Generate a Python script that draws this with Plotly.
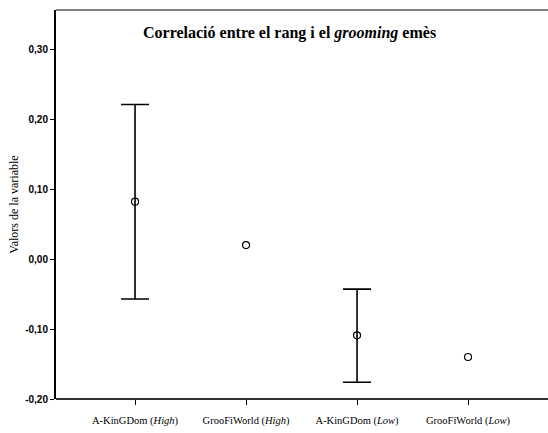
import plotly.graph_objects as go

categories = ["A-KinGDom (<i>High</i>)", "GrooFiWorld (<i>High</i>)",
              "A-KinGDom (<i>Low</i>)", "GrooFiWorld (<i>Low</i>)"]
means = [0.082, 0.020, -0.109, -0.140]
ci_high = [0.221, None, -0.043, None]
ci_low = [-0.057, None, -0.176, None]

y_tickvals = [-0.20, -0.10, 0.00, 0.10, 0.20, 0.30]
y_ticktext = ["-0,20", "-0,10", "0,00", "0,10", "0,20", "0,30"]

SERIF = "Times New Roman, Liberation Serif, serif"

err_plus = [(h - m) if h is not None else 0 for h, m in zip(ci_high, means)]
err_minus = [(m - l) if l is not None else 0 for l, m in zip(ci_low, means)]
has_err = [h is not None for h in ci_high]

xpos = list(range(len(categories)))

W, H = 548, 433
ML, MR, MT, MB = 56, 30, 10, 34
ext = (W - ML) / (W - ML - MR)  # paper x reaching the right edge of the page

fig = go.Figure()
fig.add_trace(go.Scatter(
    x=[x for x, e in zip(xpos, has_err) if e],
    y=[m for m, e in zip(means, has_err) if e],
    mode="markers",
    marker=dict(size=0.1, color="rgba(0,0,0,0)"),
    error_y=dict(type="data", symmetric=False,
                 array=[p for p, e in zip(err_plus, has_err) if e],
                 arrayminus=[p for p, e in zip(err_minus, has_err) if e],
                 color="black", thickness=1.6, width=14),
    hoverinfo="skip", showlegend=False,
))
fig.add_trace(go.Scatter(
    x=xpos, y=means, mode="markers",
    marker=dict(symbol="circle-open", size=7, color="black", line=dict(width=1.2)),
    showlegend=False,
))

fig.update_layout(
    template="none",
    width=W, height=H,
    margin=dict(l=ML, r=MR, t=MT, b=MB),
    paper_bgcolor="white", plot_bgcolor="white",
    separators=",.",
    font=dict(family=SERIF, color="black"),
    annotations=[dict(
        text="<b>Correlació entre el rang i el <i>grooming</i> emès</b>",
        xref="paper", yref="paper", x=0.505, y=0.941,
        xanchor="center", yanchor="middle", showarrow=False,
        font=dict(family=SERIF, size=16, color="black"),
    )],
    shapes=[
        dict(type="line", xref="paper", yref="paper", x0=0, x1=ext, y0=1, y1=1,
             line=dict(color="#808080", width=2)),
        dict(type="line", xref="paper", yref="paper", x0=0, x1=ext, y0=0, y1=0,
             line=dict(color="#333333", width=2)),
    ],
)
fig.update_xaxes(
    range=[-0.712, 3.45], tickvals=xpos, ticktext=categories,
    showgrid=False, zeroline=False, showline=False,
    ticks="outside", ticklen=5, tickwidth=1, tickcolor="black",
    tickfont=dict(family=SERIF, size=10.5, color="black"),
    ticklabelstandoff=6,
)
fig.update_yaxes(
    range=[-0.2, 0.356], tickvals=y_tickvals, ticktext=y_ticktext,
    showgrid=False, zeroline=False, showline=True, linecolor="black", linewidth=2,
    ticks="outside", ticklen=4, tickwidth=1, tickcolor="black",
    tickfont=dict(family="Arial, Liberation Sans, sans-serif", size=10, color="black", weight="bold"),
    title=dict(text="Valors de la variable", standoff=4,
               font=dict(family=SERIF, size=12, color="black")),
)

fig.write_html("out.html")
